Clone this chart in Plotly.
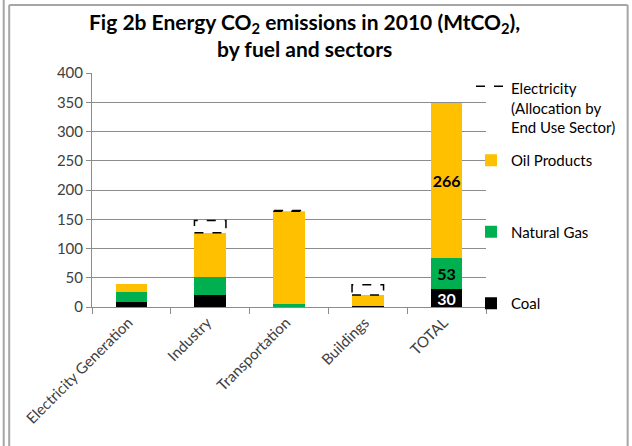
import plotly.graph_objects as go

categories = ["Electricity Generation", "Industry", "Transportation", "Buildings", "TOTAL"]
coal = [8, 21, 0, 1, 30]
natural_gas = [17.6, 31, 4.6, 0, 53]
oil_products = [13.2, 75, 159, 19.5, 266]
electricity_alloc = [0, 21, 1.5, 17.5, 0]

W, H = 632, 446
L, R, T, B = 92, 145, 73, 139
PW, PH = W - L - R, H - T - B


def px_x(px):
    return (px - L) / PW


def px_y(py):
    return (H - B - py) / PH


BAR_W = 0.4
xs = list(range(len(categories)))
FONT = "Lato"
TXT = "#404040"


def labels(vals):
    return [""] * (len(vals) - 1) + [f"{vals[-1]:.0f}"]


def bar(vals, name, color, tcolor, rank):
    return go.Bar(x=xs, y=vals, name=name, marker=dict(color=color, line=dict(width=0)),
                  width=BAR_W, text=labels(vals), textposition="inside", insidetextanchor="middle",
                  textangle=0, constraintext="none",
                  textfont=dict(color=tcolor, size=16, family=FONT, weight="bold"),
                  legendgroup=name, legendrank=rank)


fig = go.Figure()
fig.add_trace(bar(coal, "Coal", "#000000", "white", 3))
fig.add_trace(bar(natural_gas, "Natural Gas", "#00B050", "black", 2))
fig.add_trace(bar(oil_products, "Oil Products", "#FFC000", "black", 1))

# electricity allocation: dashed outlined boxes stacked on top
ex, ey = [], []
for i, e in enumerate(electricity_alloc):
    if e <= 0:
        continue
    base = coal[i] + natural_gas[i] + oil_products[i]
    x0, x1 = xs[i] - BAR_W / 2, xs[i] + BAR_W / 2
    ex += [x0, x1, x1, x0, x0, None]
    ey += [base, base, base + e, base + e, base, None]
fig.add_trace(go.Scatter(x=ex, y=ey, mode="lines", fill="toself", fillcolor="white",
                         line=dict(color="black", width=1.5, dash="dash"),
                         name="Electricity<br>(Allocation by<br>End Use Sector)", legend="legend2",
                         hoverinfo="skip"))

fig.update_layout(
    width=W, height=H,
    margin=dict(l=L, r=R, t=T, b=B),
    barmode="stack",
    paper_bgcolor="white", plot_bgcolor="white",
    font=dict(family=FONT, size=15, color=TXT),
    xaxis=dict(range=[-0.5, len(categories) - 0.5], tickvals=xs, ticktext=categories,
               tickangle=-45, ticks="", showgrid=False, showline=True, linecolor="#8c8c8c", linewidth=1,
               tickfont=dict(size=15, color=TXT, family=FONT), ticklabelshift=-3,
               minor=dict(tickvals=[i - 0.5 for i in range(len(categories) + 1)], ticks="outside",
                          ticklen=6, tickcolor="#8c8c8c", showgrid=False),
               zeroline=False, fixedrange=True),
    yaxis=dict(range=[0, 400], dtick=50, showgrid=True, gridcolor="#8c8c8c", gridwidth=1,
               showline=True, linecolor="#8c8c8c", ticks="outside", ticklen=5, tickcolor="#8c8c8c",
               tickfont=dict(size=15, color=TXT, family=FONT), zeroline=False),
    legend=dict(x=px_x(471), xanchor="left", y=px_y(144), yanchor="top", traceorder="grouped",
                tracegroupgap=49, font=dict(size=15, color="black", family=FONT), bgcolor="rgba(0,0,0,0)",
                itemwidth=30),
    legend2=dict(x=px_x(471), xanchor="left", y=px_y(72), yanchor="top", valign="top",
                 font=dict(size=15, color="black", family=FONT), bgcolor="rgba(0,0,0,0)", itemwidth=30),
    showlegend=True,
)

fig.add_annotation(text="Fig 2b Energy CO<sub>2</sub> emissions in 2010 (MtCO<sub>2</sub>),<br>by fuel and sectors",
                   xref="paper", yref="paper", x=px_x(305), y=px_y(7), xanchor="center", yanchor="top",
                   showarrow=False, align="center",
                   font=dict(family=FONT, size=21, color="black", weight="bold"))

# outer chart-area border (as in the original screenshot)
border = dict(color="#a6a6a6", width=2)
fig.add_shape(type="line", xref="paper", yref="paper", x0=px_x(3.5), x1=px_x(3.5), y0=px_y(0), y1=px_y(H),
              line=border)
fig.add_shape(type="line", xref="paper", yref="paper", x0=px_x(9), x1=px_x(9), y0=px_y(5), y1=px_y(H),
              line=border)
fig.add_shape(type="line", xref="paper", yref="paper", x0=px_x(9), x1=px_x(629), y0=px_y(5), y1=px_y(5),
              line=border)
fig.add_shape(type="line", xref="paper", yref="paper", x0=px_x(629), x1=px_x(629), y0=px_y(5), y1=px_y(H),
              line=border)

fig.write_html("out.html")
